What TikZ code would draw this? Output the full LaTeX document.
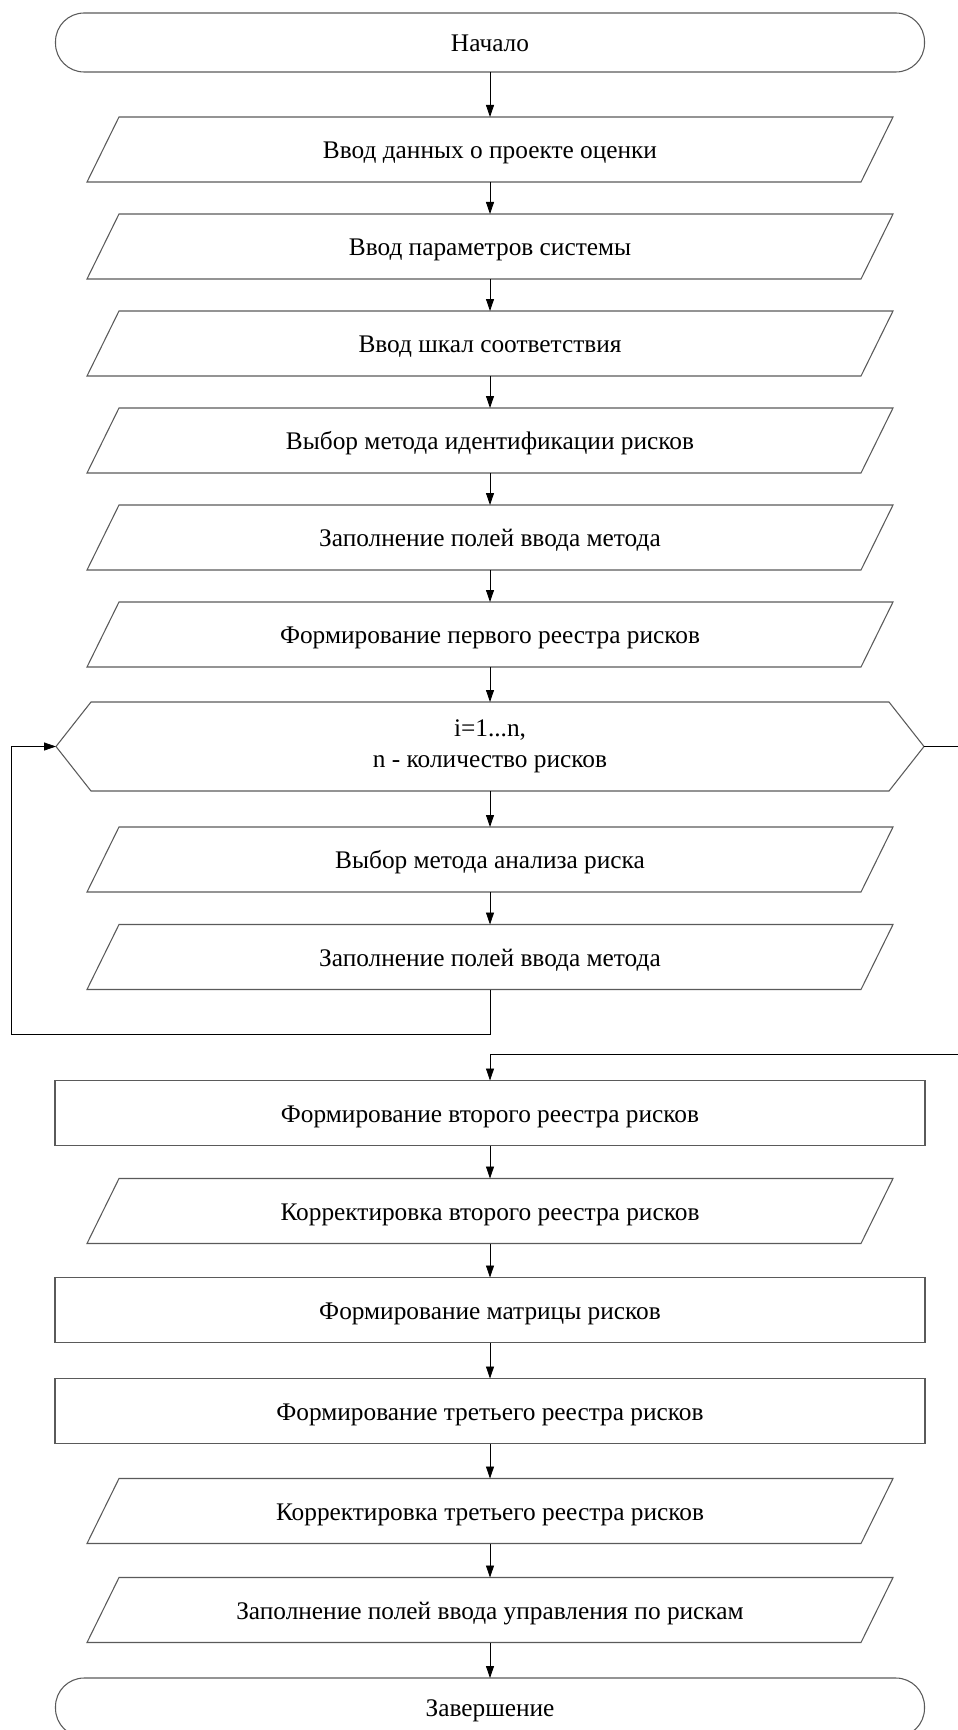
\documentclass[tikz,border=0pt]{standalone}
\usepackage{fontspec}
\setmainfont{Liberation Serif}
\usetikzlibrary{calc,arrows.meta}
\definecolor{shapecol}{HTML}{5A5A5A}
\tikzset{
  txt/.style={inner sep=0pt, outer sep=0pt, align=center, font=\fontsize{19}{23}\selectfont},
  oneline/.style={text height=17pt, text depth=3pt},
  term/.style={txt, oneline, draw=shapecol, line width=0.8pt, rounded corners=21.5pt, minimum width=651.75pt, minimum height=44.25pt},
  proc/.style={txt, oneline, draw=shapecol, line width=0.8pt, minimum width=652.5pt, minimum height=48.75pt},
  io/.style={txt, oneline, minimum width=580.5pt, minimum height=48.75pt},
  loopnode/.style={txt, minimum width=651pt, minimum height=66.75pt},
  shp/.style={draw=shapecol, line width=0.8pt, line join=miter},
  arr/.style={draw=black, line width=0.6pt, -{Triangle[length=9pt,width=6pt]}}
}
\begin{document}
\begin{tikzpicture}[x=0.75pt,y=-0.75pt]
\useasboundingbox (0,0) rectangle (957,1730);
\node[term] (t0) at (490,42.5) {Начало};
\node[io] (p1) at (490,149.5) {Ввод данных о проекте оценки};
\node[io] (p2) at (490,246.5) {Ввод параметров системы};
\node[io] (p3) at (490,343.5) {Ввод шкал соответствия};
\node[io] (p4) at (490,440.5) {Выбор метода идентификации рисков};
\node[io] (p5) at (490,537.5) {Заполнение полей ввода метода};
\node[io] (p6) at (490,634.5) {Формирование первого реестра рисков};
\node[loopnode] (h) at (490,746.5) {i=1...n,\\n - количество рисков};
\node[io] (p7) at (490,859.5) {Выбор метода анализа риска};
\node[io] (p8) at (490,957) {Заполнение полей ввода метода};
\node[proc] (r1) at (490,1113) {Формирование второго реестра рисков};
\node[io] (p9) at (490,1211) {Корректировка второго реестра рисков};
\node[proc] (r2) at (490,1310) {Формирование матрицы рисков};
\node[proc] (r3) at (490,1411) {Формирование третьего реестра рисков};
\node[io] (p10) at (490,1511) {Корректировка третьего реестра рисков};
\node[io] (p11) at (490,1610) {Заполнение полей ввода управления по рискам};
\node[term] (t1) at (490,1707.5) {Завершение};
\foreach \n in {p1,p2,p3,p4,p5,p6,p7,p8,p9,p10,p11}{
  \draw[shp] ($(\n.north west)+(16,0)$) -- ($(\n.north east)+(16,0)$) -- ($(\n.south east)+(-16,0)$) -- ($(\n.south west)+(-16,0)$) -- cycle;
}
\draw[shp] (h.west) -- ($(h.north west)+(35,0)$) -- ($(h.north east)+(-35,0)$) -- (h.east) -- ($(h.south east)+(-35,0)$) -- ($(h.south west)+(35,0)$) -- cycle;
\draw[arr] (t0) -- (p1);
\draw[arr] (p1) -- (p2);
\draw[arr] (p2) -- (p3);
\draw[arr] (p3) -- (p4);
\draw[arr] (p4) -- (p5);
\draw[arr] (p5) -- (p6);
\draw[arr] (p6) -- (h);
\draw[arr] (h) -- (p7);
\draw[arr] (p7) -- (p8);
\coordinate (lb) at (11.7,1034);
\draw[arr] (p8.south) |- (lb) |- (h.west);
\coordinate (er) at (958,1054);
\draw[arr] (h.east) -| (er) -| (r1.north);
\draw[arr] (r1) -- (p9);
\draw[arr] (p9) -- (r2);
\draw[arr] (r2) -- (r3);
\draw[arr] (r3) -- (p10);
\draw[arr] (p10) -- (p11);
\draw[arr] (p11) -- (t1);
\end{tikzpicture}
\end{document}
